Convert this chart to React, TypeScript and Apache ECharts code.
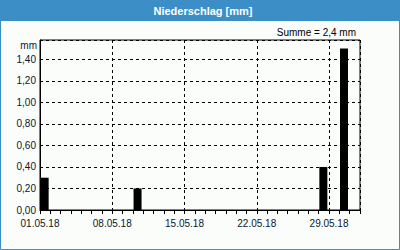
import React, { useEffect, useRef } from "react";
import * as echarts from "echarts";

const dayLabels = ["01.05.18", "08.05.18", "15.05.18", "22.05.18", "29.05.18"];
const rainDays = [1, 10, 28, 30];
const rainValues = [0.3, 0.2, 0.4, 1.5];
const yTicks = [0, 0.2, 0.4, 0.6, 0.8, 1.0, 1.2, 1.4];
const titleText = "Niederschlag [mm]";
const sumText = "Summe = 2,4 mm";
const unitText = "mm";

export default function App() {
  const ref = useRef<HTMLDivElement>(null);
  useEffect(() => {
    if (!ref.current) return;
    const chart = echarts.init(ref.current, null, { renderer: "svg" });
    const font = "Liberation Sans";
    const labelColor = "#0d1630";
    chart.setOption({
      animation: false,
      backgroundColor: "#fbfdfb",
      graphic: [
        { type: "rect", shape: { x: 0, y: 0, width: 400, height: 21 }, style: { fill: "#3b8fc6" }, z: 0 },
        { type: "rect", shape: { x: 0.5, y: 0.5, width: 399, height: 249 }, style: { fill: "none", stroke: "#3b8fc6", lineWidth: 1 }, z: 0 },
        { type: "text", x: 203, y: 11, style: { text: titleText, fill: "#ffffff", font: `bold 11px ${font}`, textAlign: "center", textVerticalAlign: "middle" }, z: 5 },
        { type: "text", x: 356, y: 32, style: { text: sumText, fill: "#000000", font: `10px ${font}`, textAlign: "right", textVerticalAlign: "middle" }, z: 5 },
        { type: "text", x: 37, y: 45, style: { text: unitText, fill: labelColor, font: `10px ${font}`, textAlign: "right", textVerticalAlign: "middle" }, z: 5 },
      ],
      grid: { left: 40, right: 40, top: 40, bottom: 40, show: true, borderColor: "#000", borderWidth: 1, backgroundColor: "transparent" },
      xAxis: {
        type: "value",
        min: 0,
        max: 31,
        interval: 7,
        axisLine: { show: true, lineStyle: { color: "#000", width: 1 } },
        axisTick: { show: true, length: 4, lineStyle: { color: "#000" } },
        minorTick: { show: true, splitNumber: 7, length: 4, lineStyle: { color: "#000" } },
        splitLine: { show: true, lineStyle: { color: "#000", type: [3, 3], width: 1 } },
        axisLabel: {
          color: labelColor,
          fontFamily: font,
          fontSize: 10,
          margin: 8,
          showMaxLabel: false,
          formatter: (v: number) => {
            const i = Math.round(v / 7);
            return Math.abs(v - i * 7) < 1e-6 && i < dayLabels.length ? dayLabels[i] : "";
          },
        },
      },
      yAxis: {
        type: "value",
        min: 0,
        max: 1.58,
        interval: 0.2,
        axisLine: { show: true, lineStyle: { color: "#000" } },
        axisTick: { show: false },
        splitLine: { show: true, lineStyle: { color: "#000", type: [3, 3], width: 1 } },
        axisLabel: {
          color: labelColor,
          fontFamily: font,
          fontSize: 10,
          margin: 4,
          showMaxLabel: false,
          formatter: (v: number) => {
            const t = yTicks.find((k) => Math.abs(k - v) < 1e-6);
            return t === undefined ? "" : t.toFixed(2).replace(".", ",");
          },
        },
      },
      series: [
        {
          type: "bar",
          barWidth: 8,
          itemStyle: { color: "#000" },
          data: rainDays.map((d, i) => [d - 1 + 0.45, rainValues[i]]),
        },
      ],
    });
    return () => chart.dispose();
  }, []);
  return <div ref={ref} style={{ position: "absolute", left: 0, top: 0, width: 400, height: 250 }} />;
}
